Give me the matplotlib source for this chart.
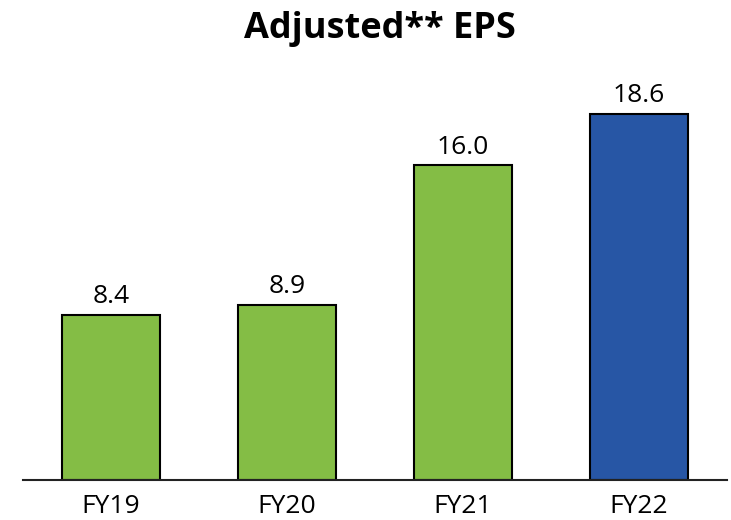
import matplotlib
matplotlib.use("Agg")
import matplotlib.pyplot as plt

# Data
years = ["FY19", "FY20", "FY21", "FY22"]
eps = [8.4, 8.9, 16.0, 18.6]
colors = ["#84BD45", "#84BD45", "#84BD45", "#2756A5"]

plt.rcParams["font.family"] = ["Open Sans", "DejaVu Sans"]

fig = plt.figure(figsize=(7.31, 5.20), dpi=100)
ax = fig.add_axes([0.0315, 0.0769, 0.963, 0.757])

x = range(len(years))
bars = ax.bar(x, eps, width=0.557, color=colors, edgecolor="black", linewidth=1.5, zorder=2)

for xi, v in zip(x, eps):
    ax.annotate(f"{v:.1f}", xy=(xi, v), xytext=(0, 4), textcoords="offset points",
                ha="center", va="bottom", fontsize=19, color="black")

ax.set_xlim(-0.5, len(years) - 0.5)
ax.set_ylim(0, 20)
ax.set_xticks(list(x))
ax.set_xticklabels(years, fontsize=19)
ax.tick_params(axis="x", length=0, pad=10)
ax.set_yticks([])
for s in ["top", "right", "left"]:
    ax.spines[s].set_visible(False)
ax.spines["bottom"].set_linewidth(1.5)
ax.spines["bottom"].set_color("#222222")

fig.text(0.52, 0.945, "Adjusted** EPS", ha="center", va="center",
         fontsize=26, fontweight="bold")

fig.savefig("out.png", dpi=100, facecolor="white")
